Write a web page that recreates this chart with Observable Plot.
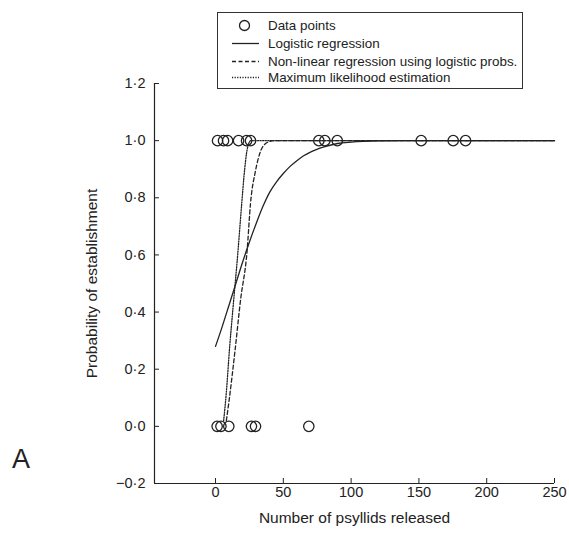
<!DOCTYPE html>
<html>
<head>
<meta charset="utf-8">
<script src="https://cdn.jsdelivr.net/npm/d3@7"></script>
<script src="https://cdn.jsdelivr.net/npm/@observablehq/plot@0.6"></script>
<style>
  html, body { margin: 0; padding: 0; background: #fff; }
  #wrap { position: relative; width: 569px; height: 534px; font-family: "Liberation Sans", Arial, Helvetica, sans-serif; color: #222; }
  #chart { position: absolute; left: 0; top: 0; }
  #legend { position: absolute; left: 217px; top: 12px; width: 306px; height: 77px; border: 1px solid #333; background: #fff; box-sizing: border-box; }
  .row { position: absolute; left: 0; height: 17px; line-height: 17px; font-size: 13.4px; white-space: nowrap; }
  .row svg { position: absolute; left: 13px; top: 2px; }
  .row span { position: absolute; left: 50px; top: 0; }
  #panel { position: absolute; left: 12px; top: 446px; font-size: 27px; line-height: 27px; }
</style>
</head>
<body>
<div id="wrap">
  <div id="chart"></div>
  <div id="legend"></div>
  <div id="panel">A</div>
</div>
<script>
// ---- Data ----
const establishedReleases = [1.5, 5.9, 8.9, 17, 22.9, 25.8, 76.2, 80.6, 89.8, 151.7, 175.3, 184.4]; // probability 1
const failedReleases = [1.2, 4, 9.8, 26.5, 29.5, 68.8]; // probability 0

const logisticX = [0, 5, 10, 15, 20, 25, 30, 35, 40, 45, 50, 55, 60, 65, 70, 80, 90, 100, 120, 150, 250];
const logisticP = [0.28, 0.35, 0.425, 0.5, 0.575, 0.645, 0.71, 0.77, 0.82, 0.856, 0.885, 0.91, 0.93, 0.947, 0.96, 0.978, 0.99, 0.995, 0.999, 1, 1];

const nonlinearX = [8, 10, 14.5, 18.4, 23.3, 25.8, 29.5, 33, 37, 43, 250];
const nonlinearP = [0.02, 0.09, 0.27, 0.44, 0.615, 0.78, 0.895, 0.96, 0.99, 1, 1];

const mleX = [6, 8, 10.3, 13, 16.6, 19, 21.5, 23, 24.5, 26, 250];
const mleP = [0.02, 0.12, 0.27, 0.42, 0.615, 0.76, 0.9, 0.96, 0.99, 1, 1];

const xDomain = [-45, 250];
const yDomain = [-0.2, 1.2];
const xTicks = [0, 50, 100, 150, 200, 250];
const yTicks = [-0.2, 0, 0.2, 0.4, 0.6, 0.8, 1.0, 1.2];

const legendLabels = ["Data points", "Logistic regression", "Non-linear regression using logistic probs.", "Maximum likelihood estimation"];

// ---- Build tables ----
const points = [
  ...establishedReleases.map(x => ({x, p: 1})),
  ...failedReleases.map(x => ({x, p: 0}))
];
const toRows = (xs, ps) => xs.map((x, i) => ({x, p: ps[i]}));
const logistic = toRows(logisticX, logisticP);
const nonlinear = toRows(nonlinearX, nonlinearP);
const mle = toRows(mleX, mleP);

const ink = "#222";
const fmtY = v => (v < 0 ? "\u2212" : "") + Math.abs(v).toFixed(1).replace(".", "\u00b7");
const font = '"Liberation Sans", Arial, Helvetica, sans-serif';

const chart = Plot.plot({
  width: 569,
  height: 534,
  marginLeft: 154,
  marginRight: 15,
  marginTop: 83,
  marginBottom: 51,
  style: {fontFamily: font, fontSize: "14.5px", color: ink, background: "transparent"},
  x: {domain: xDomain},
  y: {domain: yDomain},
  marks: [
    Plot.ruleX([xDomain[0]], {stroke: ink, strokeWidth: 1.2}),
    Plot.ruleY([yDomain[0]], {stroke: ink, strokeWidth: 1.2}),
    Plot.axisY({ticks: yTicks, tickFormat: fmtY, tickSize: -5, tickPadding: 14, label: null}),
    Plot.axisY({ticks: [], tickSize: 0, label: "Probability of establishment", labelAnchor: "center", labelArrow: false, labelOffset: 69, fontSize: 15.5}),
    Plot.axisX({ticks: xTicks, tickSize: -5, tickPadding: 8, label: null}),
    Plot.axisX({ticks: [], tickSize: 0, label: "Number of psyllids released", labelAnchor: "center", labelArrow: false, labelOffset: 39, fontSize: 15.5}),
    Plot.line(logistic, {x: "x", y: "p", stroke: ink, strokeWidth: 1.3, curve: "monotone-x"}),
    Plot.line(nonlinear, {x: "x", y: "p", stroke: ink, strokeWidth: 1.3, strokeDasharray: "4,2.5", curve: "monotone-x"}),
    Plot.line(mle, {x: "x", y: "p", stroke: ink, strokeWidth: 1.3, strokeDasharray: "1.2,1.4", curve: "monotone-x"}),
    Plot.dot(points, {x: "x", y: "p", r: 5.2, stroke: ink, strokeWidth: 1.3, fill: "none"})
  ]
});
document.getElementById("chart").appendChild(chart);

// ---- Legend ----
const legend = document.getElementById("legend");
const samples = [
  '<svg width="28" height="13"><circle cx="13.5" cy="6.5" r="5" fill="none" stroke="#222" stroke-width="1.3"/></svg>',
  '<svg width="28" height="13"><line x1="1" x2="28" y1="6.5" y2="6.5" stroke="#222" stroke-width="1.3"/></svg>',
  '<svg width="28" height="13"><line x1="1" x2="28" y1="6.5" y2="6.5" stroke="#222" stroke-width="1.3" stroke-dasharray="4,2.5"/></svg>',
  '<svg width="28" height="13"><line x1="1" x2="28" y1="6.5" y2="6.5" stroke="#222" stroke-width="1.3" stroke-dasharray="1.2,1.4"/></svg>'
];
const rowTops = [4, 22, 40, 56];
legendLabels.forEach((label, i) => {
  const row = document.createElement("div");
  row.className = "row";
  row.style.top = rowTops[i] + "px";
  row.innerHTML = samples[i] + "<span></span>";
  row.querySelector("span").textContent = label;
  legend.appendChild(row);
});
</script>
</body>
</html>
